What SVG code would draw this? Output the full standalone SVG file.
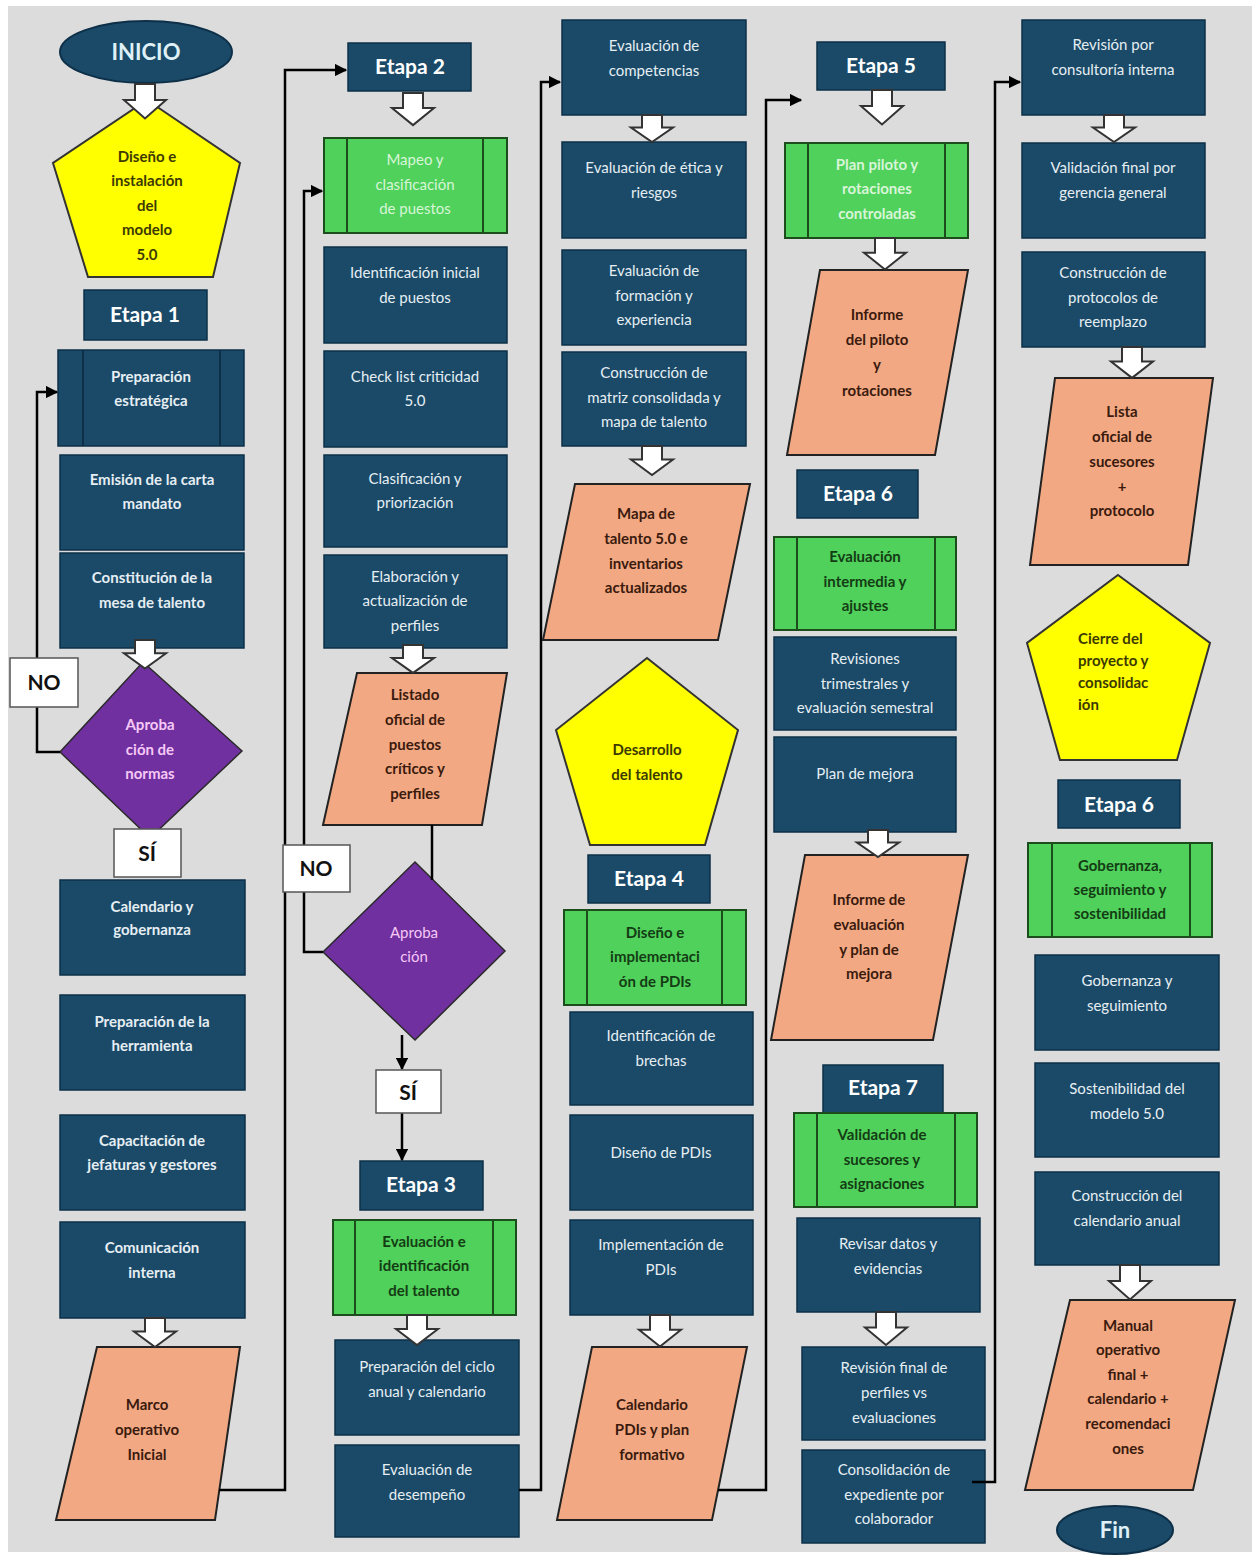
<svg xmlns="http://www.w3.org/2000/svg" xmlns:xlink="http://www.w3.org/1999/xlink" width="1258" height="1558" viewBox="0 0 1258 1558">
<defs>
<style>
.box{fill:#1a4a68;stroke:#0d3048;stroke-width:1.5}
.t{font-family:Lato,"Liberation Sans",sans-serif;font-size:15px;fill:#e6eef3;text-anchor:middle}
.b{font-weight:bold}
.et{font-family:Lato,"Liberation Sans",sans-serif;font-size:21px;font-weight:bold;fill:#ffffff;text-anchor:middle}
.green{fill:#4fd15b;stroke:#1d4d1d;stroke-width:2}
.gl{stroke:#1d4d1d;stroke-width:2;fill:none}
.sl{stroke:#0d3048;stroke-width:2;fill:none}
.gt{fill:#143c14;font-weight:bold}
.glt{fill:#d8f5d8}
.orange{fill:#f2a983;stroke:#222;stroke-width:2}
.ot{fill:#3b1a0e;font-weight:bold}
.yellow{fill:#ffff00;stroke:#333;stroke-width:2}
.yt{fill:#3d3a00;font-weight:bold}
.purple{fill:#7030a0;stroke:#2a2a2a;stroke-width:1.5}
.pt{fill:#f6c8f6}
.lbl{fill:#ffffff;stroke:#555;stroke-width:1.5}
.lt{font-family:Lato,"Liberation Sans",sans-serif;font-size:21px;font-weight:bold;fill:#111;text-anchor:middle}
.conn{stroke:#000;stroke-width:2.5;fill:none}
.barrow{fill:#ffffff;stroke:#333;stroke-width:2;vector-effect:non-scaling-stroke}
</style>
<marker id="ah" viewBox="0 0 10 10" refX="9" refY="5" markerWidth="5" markerHeight="5" orient="auto" markerUnits="strokeWidth">
<path d="M0,0 L10,5 L0,10 Z" fill="#000"/>
</marker>
<path id="ba" class="barrow" d="M-10,0 H10 V14 H21 L0,30 L-21,14 H-10 Z"/>
</defs>
<rect x="0" y="0" width="1258" height="1558" fill="#ffffff"/>
<rect x="8" y="6" width="1244" height="1546" fill="#dcdcdc"/>

<!-- Column 1 -->
<g id="inicio"><ellipse cx="146" cy="52" rx="86" ry="31" fill="#1a4a68" stroke="#0d3048" stroke-width="2"/><text class="t b" x="146" y="60" style="font-size:22px;fill:#dff0f7">INICIO</text></g>
<g id="diseno-modelo"><polygon class="yellow" points="147,100 240,163 213,277 88,277 53,163"/><text class="t yt"><tspan x="147" y="162">Diseño e</tspan><tspan x="147" y="186">instalación</tspan><tspan x="147" y="211">del</tspan><tspan x="147" y="235">modelo</tspan><tspan x="147" y="260">5.0</tspan></text></g>
<g id="etapa1"><rect class="box" x="84" y="290" width="123" height="50"/><text class="et" x="145" y="322">Etapa 1</text></g>
<g id="preparacion-estrategica"><rect class="box" x="58" y="350" width="186" height="96"/><line class="sl" x1="83" y1="350" x2="83" y2="446"/><line class="sl" x1="220" y1="350" x2="220" y2="446"/><text class="t b"><tspan x="151" y="382">Preparación</tspan><tspan x="151" y="406">estratégica</tspan></text></g>
<g id="emision-carta"><rect class="box" x="60" y="455" width="184" height="95"/><text class="t b"><tspan x="152" y="485">Emisión de la carta</tspan><tspan x="152" y="509">mandato</tspan></text></g>
<g id="constitucion-mesa"><rect class="box" x="60" y="553" width="184" height="95"/><text class="t b"><tspan x="152" y="583">Constitución de la</tspan><tspan x="152" y="608">mesa de talento</tspan></text></g>
<g id="aprobacion-normas"><polygon class="purple" points="143,662 242,751 150,838 60,752"/><text class="t b pt"><tspan x="150" y="730">Aproba</tspan><tspan x="150" y="755">ción de</tspan><tspan x="150" y="779">normas</tspan></text></g>
<g id="calendario-gobernanza"><rect class="box" x="60" y="880" width="185" height="95"/><text class="t b"><tspan x="152" y="912">Calendario y</tspan><tspan x="152" y="935">gobernanza</tspan></text></g>
<g id="preparacion-herramienta"><rect class="box" x="60" y="995" width="185" height="95"/><text class="t b"><tspan x="152" y="1027">Preparación de la</tspan><tspan x="152" y="1051">herramienta</tspan></text></g>
<g id="capacitacion"><rect class="box" x="60" y="1115" width="185" height="95"/><text class="t b"><tspan x="152" y="1146">Capacitación de</tspan><tspan x="152" y="1170">jefaturas y gestores</tspan></text></g>
<g id="comunicacion"><rect class="box" x="60" y="1222" width="185" height="96"/><text class="t b"><tspan x="152" y="1253">Comunicación</tspan><tspan x="152" y="1278">interna</tspan></text></g>
<g id="marco-operativo"><polygon class="orange" points="97,1347 240,1347 215,1520 56,1520"/><text class="t ot"><tspan x="147" y="1410">Marco</tspan><tspan x="147" y="1435">operativo</tspan><tspan x="147" y="1460">Inicial</tspan></text></g>

<!-- Column 2 -->
<g id="etapa2"><rect class="box" x="348" y="43" width="123" height="48"/><text class="et" x="410" y="74">Etapa 2</text></g>
<g id="mapeo"><rect class="green" x="324" y="138" width="183" height="95"/><line class="gl" x1="347" y1="138" x2="347" y2="233"/><line class="gl" x1="483" y1="138" x2="483" y2="233"/><text class="t glt"><tspan x="415" y="165">Mapeo y</tspan><tspan x="415" y="190">clasificación</tspan><tspan x="415" y="214">de puestos</tspan></text></g>
<g id="identificacion-inicial"><rect class="box" x="324" y="247" width="183" height="96"/><text class="t"><tspan x="415" y="278">Identificación inicial</tspan><tspan x="415" y="303">de puestos</tspan></text></g>
<g id="checklist"><rect class="box" x="324" y="351" width="183" height="96"/><text class="t"><tspan x="415" y="382">Check list criticidad</tspan><tspan x="415" y="406">5.0</tspan></text></g>
<g id="clasificacion"><rect class="box" x="324" y="455" width="183" height="92"/><text class="t"><tspan x="415" y="484">Clasificación y</tspan><tspan x="415" y="508">priorización</tspan></text></g>
<g id="elaboracion"><rect class="box" x="324" y="555" width="183" height="93"/><text class="t"><tspan x="415" y="582">Elaboración y</tspan><tspan x="415" y="606">actualización de</tspan><tspan x="415" y="631">perfiles</tspan></text></g>
<g id="listado-oficial"><polygon class="orange" points="357,673 507,673 482,825 323,825"/><text class="t ot"><tspan x="415" y="700">Listado</tspan><tspan x="415" y="725">oficial de</tspan><tspan x="415" y="750">puestos</tspan><tspan x="415" y="774">críticos y</tspan><tspan x="415" y="799">perfiles</tspan></text></g>
<g id="aprobacion"><polygon class="purple" points="415,862 505,951 415,1040 323,952"/><text class="t pt"><tspan x="414" y="938">Aproba</tspan><tspan x="414" y="962">ción</tspan></text></g>
<g id="etapa3"><rect class="box" x="360" y="1161" width="123" height="49"/><text class="et" x="421" y="1192">Etapa 3</text></g>
<g id="evaluacion-identificacion"><rect class="green" x="333" y="1220" width="183" height="95"/><line class="gl" x1="355" y1="1220" x2="355" y2="1315"/><line class="gl" x1="493" y1="1220" x2="493" y2="1315"/><text class="t gt"><tspan x="424" y="1247">Evaluación e</tspan><tspan x="424" y="1271">identificación</tspan><tspan x="424" y="1296">del talento</tspan></text></g>
<g id="preparacion-ciclo"><rect class="box" x="335" y="1340" width="184" height="95"/><text class="t"><tspan x="427" y="1372">Preparación del ciclo</tspan><tspan x="427" y="1397">anual y calendario</tspan></text></g>
<g id="evaluacion-desempeno"><rect class="box" x="335" y="1445" width="184" height="92"/><text class="t"><tspan x="427" y="1475">Evaluación de</tspan><tspan x="427" y="1500">desempeño</tspan></text></g>

<!-- Column 3 -->
<g id="evaluacion-competencias"><rect class="box" x="562" y="20" width="184" height="95"/><text class="t"><tspan x="654" y="51">Evaluación de</tspan><tspan x="654" y="76">competencias</tspan></text></g>
<g id="evaluacion-etica"><rect class="box" x="562" y="142" width="184" height="96"/><text class="t"><tspan x="654" y="173">Evaluación de ética y</tspan><tspan x="654" y="198">riesgos</tspan></text></g>
<g id="evaluacion-formacion"><rect class="box" x="562" y="250" width="184" height="95"/><text class="t"><tspan x="654" y="276">Evaluación de</tspan><tspan x="654" y="301">formación y</tspan><tspan x="654" y="325">experiencia</tspan></text></g>
<g id="construccion-matriz"><rect class="box" x="562" y="352" width="184" height="94"/><text class="t"><tspan x="654" y="378">Construcción de</tspan><tspan x="654" y="403">matriz consolidada y</tspan><tspan x="654" y="427">mapa de talento</tspan></text></g>
<g id="mapa-talento"><polygon class="orange" points="575,484 750,484 718,640 543,640"/><text class="t ot"><tspan x="646" y="519">Mapa de</tspan><tspan x="646" y="544">talento 5.0 e</tspan><tspan x="646" y="569">inventarios</tspan><tspan x="646" y="593">actualizados</tspan></text></g>
<g id="desarrollo-talento"><polygon class="yellow" points="647,658 738,730 705,845 590,845 556,730"/><text class="t yt"><tspan x="647" y="755">Desarrollo</tspan><tspan x="647" y="780">del talento</tspan></text></g>
<g id="etapa4"><rect class="box" x="588" y="855" width="122" height="48"/><text class="et" x="649" y="886">Etapa 4</text></g>
<g id="diseno-pdis-fase"><rect class="green" x="564" y="910" width="182" height="95"/><line class="gl" x1="587" y1="910" x2="587" y2="1005"/><line class="gl" x1="722" y1="910" x2="722" y2="1005"/><text class="t gt"><tspan x="655" y="938">Diseño e</tspan><tspan x="655" y="962">implementaci</tspan><tspan x="655" y="987">ón de PDIs</tspan></text></g>
<g id="identificacion-brechas"><rect class="box" x="570" y="1012" width="183" height="93"/><text class="t"><tspan x="661" y="1041">Identificación de</tspan><tspan x="661" y="1066">brechas</tspan></text></g>
<g id="diseno-pdis"><rect class="box" x="570" y="1115" width="183" height="95"/><text class="t"><tspan x="661" y="1158">Diseño de PDIs</tspan></text></g>
<g id="implementacion-pdis"><rect class="box" x="570" y="1220" width="183" height="95"/><text class="t"><tspan x="661" y="1250">Implementación de</tspan><tspan x="661" y="1275">PDIs</tspan></text></g>
<g id="calendario-pdis"><polygon class="orange" points="592,1347 747,1347 712,1520 557,1520"/><text class="t ot"><tspan x="652" y="1410">Calendario</tspan><tspan x="652" y="1435">PDIs y plan</tspan><tspan x="652" y="1460">formativo</tspan></text></g>

<!-- Column 4 -->
<g id="etapa5"><rect class="box" x="817" y="42" width="128" height="48"/><text class="et" x="881" y="73">Etapa 5</text></g>
<g id="plan-piloto"><rect class="green" x="785" y="143" width="183" height="95"/><line class="gl" x1="808" y1="143" x2="808" y2="238"/><line class="gl" x1="945" y1="143" x2="945" y2="238"/><text class="t glt b"><tspan x="877" y="170">Plan piloto y</tspan><tspan x="877" y="194">rotaciones</tspan><tspan x="877" y="219">controladas</tspan></text></g>
<g id="informe-piloto"><polygon class="orange" points="820,270 968,270 935,455 787,455"/><text class="t ot"><tspan x="877" y="320">Informe</tspan><tspan x="877" y="345">del piloto</tspan><tspan x="877" y="370">y</tspan><tspan x="877" y="396">rotaciones</tspan></text></g>
<g id="etapa6a"><rect class="box" x="797" y="470" width="121" height="48"/><text class="et" x="858" y="501">Etapa 6</text></g>
<g id="evaluacion-intermedia"><rect class="green" x="774" y="537" width="182" height="93"/><line class="gl" x1="797" y1="537" x2="797" y2="630"/><line class="gl" x1="935" y1="537" x2="935" y2="630"/><text class="t gt"><tspan x="865" y="562">Evaluación</tspan><tspan x="865" y="587">intermedia y</tspan><tspan x="865" y="611">ajustes</tspan></text></g>
<g id="revisiones-trimestrales"><rect class="box" x="774" y="637" width="182" height="93"/><text class="t"><tspan x="865" y="664">Revisiones</tspan><tspan x="865" y="689">trimestrales y</tspan><tspan x="865" y="713">evaluación semestral</tspan></text></g>
<g id="plan-mejora"><rect class="box" x="774" y="737" width="182" height="95"/><text class="t"><tspan x="865" y="779">Plan de mejora</tspan></text></g>
<g id="informe-evaluacion"><polygon class="orange" points="805,855 968,855 933,1040 771,1040"/><text class="t ot"><tspan x="869" y="905">Informe de</tspan><tspan x="869" y="930">evaluación</tspan><tspan x="869" y="955">y plan de</tspan><tspan x="869" y="979">mejora</tspan></text></g>
<g id="etapa7"><rect class="box" x="823" y="1065" width="120" height="48"/><text class="et" x="883" y="1095">Etapa 7</text></g>
<g id="validacion-sucesores"><rect class="green" x="794" y="1113" width="183" height="94"/><line class="gl" x1="817" y1="1113" x2="817" y2="1207"/><line class="gl" x1="955" y1="1113" x2="955" y2="1207"/><text class="t gt"><tspan x="882" y="1140">Validación de</tspan><tspan x="882" y="1165">sucesores y</tspan><tspan x="882" y="1189">asignaciones</tspan></text></g>
<g id="revisar-datos"><rect class="box" x="797" y="1218" width="183" height="94"/><text class="t"><tspan x="888" y="1249">Revisar datos y</tspan><tspan x="888" y="1274">evidencias</tspan></text></g>
<g id="revision-final"><rect class="box" x="802" y="1347" width="183" height="93"/><text class="t"><tspan x="894" y="1373">Revisión final de</tspan><tspan x="894" y="1398">perfiles vs</tspan><tspan x="894" y="1423">evaluaciones</tspan></text></g>
<g id="consolidacion-expediente"><rect class="box" x="802" y="1450" width="183" height="93"/><text class="t"><tspan x="894" y="1475">Consolidación de</tspan><tspan x="894" y="1500">expediente por</tspan><tspan x="894" y="1524">colaborador</tspan></text></g>

<!-- Column 5 -->
<g id="revision-consultoria"><rect class="box" x="1022" y="20" width="183" height="95"/><text class="t"><tspan x="1113" y="50">Revisión por</tspan><tspan x="1113" y="75">consultoría interna</tspan></text></g>
<g id="validacion-gerencia"><rect class="box" x="1022" y="143" width="183" height="95"/><text class="t"><tspan x="1113" y="173">Validación final por</tspan><tspan x="1113" y="198">gerencia general</tspan></text></g>
<g id="protocolos-reemplazo"><rect class="box" x="1022" y="252" width="183" height="95"/><text class="t"><tspan x="1113" y="278">Construcción de</tspan><tspan x="1113" y="303">protocolos de</tspan><tspan x="1113" y="327">reemplazo</tspan></text></g>
<g id="lista-sucesores"><polygon class="orange" points="1055,378 1213,378 1188,565 1030,565"/><text class="t ot"><tspan x="1122" y="417">Lista</tspan><tspan x="1122" y="442">oficial de</tspan><tspan x="1122" y="467">sucesores</tspan><tspan x="1122" y="492">+</tspan><tspan x="1122" y="516">protocolo</tspan></text></g>
<g id="cierre-proyecto"><polygon class="yellow" points="1118,575 1210,643 1177,760 1060,760 1027,643"/><text class="t yt" style="text-anchor:start"><tspan x="1078" y="644">Cierre del</tspan><tspan x="1078" y="666">proyecto y</tspan><tspan x="1078" y="688">consolidac</tspan><tspan x="1078" y="710">ión</tspan></text></g>
<g id="etapa6b"><rect class="box" x="1058" y="780" width="122" height="48"/><text class="et" x="1119" y="812">Etapa 6</text></g>
<g id="gobernanza-fase"><rect class="green" x="1028" y="843" width="184" height="94"/><line class="gl" x1="1052" y1="843" x2="1052" y2="937"/><line class="gl" x1="1190" y1="843" x2="1190" y2="937"/><text class="t gt"><tspan x="1120" y="871">Gobernanza,</tspan><tspan x="1120" y="895">seguimiento y</tspan><tspan x="1120" y="919">sostenibilidad</tspan></text></g>
<g id="gobernanza-seguimiento"><rect class="box" x="1035" y="955" width="184" height="95"/><text class="t"><tspan x="1127" y="986">Gobernanza y</tspan><tspan x="1127" y="1011">seguimiento</tspan></text></g>
<g id="sostenibilidad"><rect class="box" x="1035" y="1063" width="184" height="94"/><text class="t"><tspan x="1127" y="1094">Sostenibilidad del</tspan><tspan x="1127" y="1119">modelo 5.0</tspan></text></g>
<g id="calendario-anual"><rect class="box" x="1035" y="1172" width="184" height="93"/><text class="t"><tspan x="1127" y="1201">Construcción del</tspan><tspan x="1127" y="1226">calendario anual</tspan></text></g>
<g id="manual-operativo"><polygon class="orange" points="1070,1300 1235,1300 1193,1490 1025,1490"/><text class="t ot"><tspan x="1128" y="1331">Manual</tspan><tspan x="1128" y="1355">operativo</tspan><tspan x="1128" y="1380">final +</tspan><tspan x="1128" y="1404">calendario +</tspan><tspan x="1128" y="1429">recomendaci</tspan><tspan x="1128" y="1454">ones</tspan></text></g>
<g id="fin"><ellipse cx="1115" cy="1530" rx="58" ry="24" fill="#1a4a68" stroke="#0d3048" stroke-width="2"/><text class="t b" x="1115" y="1538" style="font-size:22px;fill:#dff0f7">Fin</text></g>

<!-- Connectors -->
<g id="connectors">
<path class="conn" d="M219,1490 H285 V70 H346" marker-end="url(#ah)"/>
<path class="conn" d="M519,1490 H541 V82 H560" marker-end="url(#ah)"/>
<path class="conn" d="M718,1490 H766 V100 H801" marker-end="url(#ah)"/>
<path class="conn" d="M972,1482 H995 V82 H1020" marker-end="url(#ah)"/>
<path class="conn" d="M60,752 H37 V392 H57" marker-end="url(#ah)"/>
<path class="conn" d="M323,952 H304 V191 H322" marker-end="url(#ah)"/>
<path class="conn" d="M432,825 V880"/>
<path class="conn" d="M402,1035 V1069" marker-end="url(#ah)"/>
<path class="conn" d="M402,1113 V1160" marker-end="url(#ah)"/>
<use href="#ba" transform="translate(145,84) scale(1,1.15)"/>
<use href="#ba" transform="translate(413,93) scale(1,1.07)"/>
<use href="#ba" transform="translate(145,640) scale(1,0.95)"/>
<use href="#ba" transform="translate(155,1318) scale(1,0.97)"/>
<use href="#ba" transform="translate(413,645) scale(1,0.93)"/>
<use href="#ba" transform="translate(417,1315) scale(1,1)"/>
<use href="#ba" transform="translate(652,115) scale(1,0.9)"/>
<use href="#ba" transform="translate(652,446) scale(1,0.97)"/>
<use href="#ba" transform="translate(660,1315) scale(1,1.05)"/>
<use href="#ba" transform="translate(882,90) scale(1,1.15)"/>
<use href="#ba" transform="translate(885,238) scale(1,1.05)"/>
<use href="#ba" transform="translate(878,830) scale(1,0.9)"/>
<use href="#ba" transform="translate(886,1312) scale(1,1.1)"/>
<use href="#ba" transform="translate(1114,115) scale(1,0.9)"/>
<use href="#ba" transform="translate(1132,347) scale(1,1.03)"/>
<use href="#ba" transform="translate(1130,1265) scale(1,1.15)"/>
</g>

<!-- Branch labels (drawn over the connector lines) -->
<g id="no-1"><rect class="lbl" x="10" y="658" width="68" height="49"/><text class="lt" x="44" y="690">NO</text></g>
<g id="si-1"><rect class="lbl" x="114" y="829" width="67" height="48"/><text class="lt" x="147" y="861">SÍ</text></g>
<g id="no-2"><rect class="lbl" x="283" y="845" width="67" height="47"/><text class="lt" x="316" y="876">NO</text></g>
<g id="si-2"><rect class="lbl" x="376" y="1070" width="65" height="43"/><text class="lt" x="408" y="1100">SÍ</text></g>
</svg>
